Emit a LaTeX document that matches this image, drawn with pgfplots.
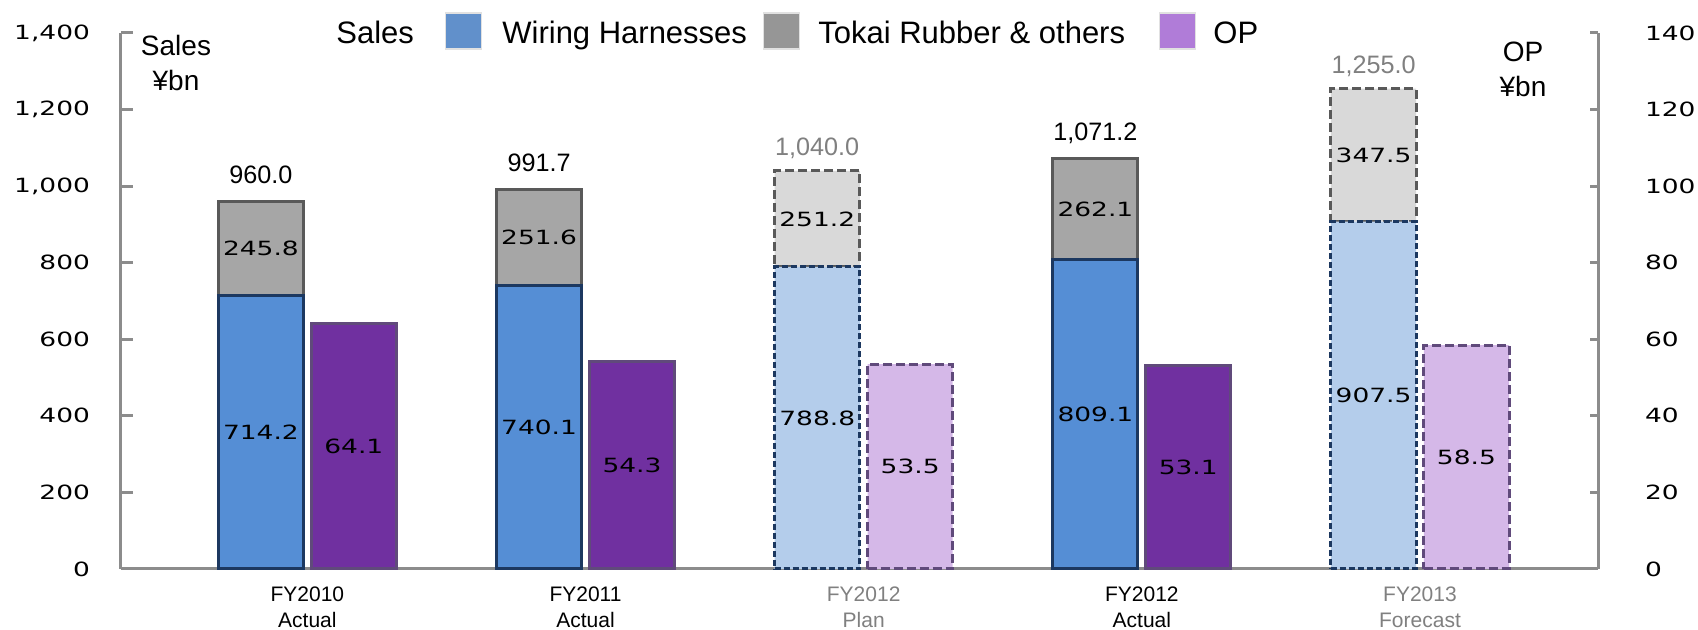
\documentclass[border=0pt]{standalone}
\usepackage{fontspec}
\setmainfont{Liberation Sans}
\newfontfamily\numfont[FakeStretch=1.35]{DejaVu Sans}
\usepackage{pgfplots}
\pgfplotsset{compat=1.18}

\definecolor{actblue}{RGB}{85,142,213}
\definecolor{navyb}{RGB}{28,56,96}
\definecolor{actgrey}{RGB}{166,166,166}
\definecolor{dgrey}{RGB}{89,89,89}
\definecolor{actpurple}{RGB}{112,48,160}
\definecolor{purpb}{RGB}{96,74,123}
\definecolor{planblue}{RGB}{180,205,235}
\definecolor{plangrey}{RGB}{217,217,217}
\definecolor{planpurple}{RGB}{213,184,232}
\definecolor{legblue}{RGB}{97,144,203}
\definecolor{leggrey}{RGB}{150,150,150}
\definecolor{legpurple}{RGB}{176,124,216}
\definecolor{legedge}{RGB}{225,225,225}
\definecolor{axisgray}{RGB}{140,140,140}
\definecolor{labgray}{RGB}{128,128,128}

\newcommand\numsize{\numfont\fontsize{9.8}{11}\selectfont}

\pgfplotsset{
  /pgf/number format/assume math mode=true,
  base/.style={width=738.5pt, height=268pt, scale only axis,
    xmin=-0.67, xmax=4.64, at={(0,0)}, anchor=south west, clip=false,
    bar width=0.306},
  % labels centred in the segments of a stacked bar
  stacklab/.style={nodes near coords={\pgfmathprintnumber[fixed,fixed zerofill,precision=1]{\pgfplotspointmeta}},
    point meta=rawy,
    nodes near coords style={anchor=center, inner sep=0pt, font=\numsize, text=black}},
  % labels centred in a plain bar
  barlab/.style={nodes near coords={\pgfmathprintnumber[fixed,fixed zerofill,precision=1]{\pgfplotspointmeta}},
    point meta=y,
    visualization depends on=y \as \rawy,
    nodes near coords style={anchor=center, inner sep=0pt, font=\numsize, text=black,
      shift={(axis direction cs:0,-\rawy/2)}}},
  totlab/.style 2 args={nodes near coords={\pgfmathprintnumber[fixed,fixed zerofill,precision=1,1000 sep={,}]{\pgfplotspointmeta}},
    point meta=y,
    nodes near coords style={anchor=base, inner sep=0pt, yshift=#2,
      font=\fontsize{12.6}{15}\selectfont, text=#1}},
  plandash/.style={dash pattern=on 4.5pt off 2pt},
  navydash/.style={dash pattern=on 3pt off 1.5pt},
}

\begin{document}
\begin{tikzpicture}
% ---------- Sales, actual (stacked), with the visible left and bottom axes
\begin{axis}[base, name=ax,
  ymin=0, ymax=1400, ybar stacked,
  axis x line=bottom, axis y line=left,
  axis line style={-, draw=axisgray, line width=1.5pt},
  xtick={0,1,2,3,4},
  xticklabels={{FY2010\\Actual},{FY2011\\Actual},{\textcolor{labgray}{FY2012}\\\textcolor{labgray}{Plan}},{FY2012\\Actual},{\textcolor{labgray}{FY2013}\\\textcolor{labgray}{Forecast}}},
  x tick style={draw=none},
  ytick={0,200,...,1400},
  y tick style={draw=axisgray, line width=1.5pt},
  major tick length=6pt, tick align=inside,
  /pgf/number format/1000 sep={,},
  yticklabel style={font=\numsize, xshift=-12pt},
  xticklabel style={font=\fontsize{10.5}{13}\selectfont, align=center, yshift=-5.5pt},
]
\addplot[fill=actblue, draw=navyb, line width=1.5pt, stacklab]
  coordinates {(-0.167,714.2) (0.833,740.1) (2.833,809.1)};
\addplot[fill=actgrey, draw=dgrey, line width=1.5pt, stacklab]
  coordinates {(-0.167,245.8) (0.833,251.6) (2.833,262.1)};
\end{axis}

% ---------- Sales, plan / forecast (stacked, dashed)
\begin{axis}[base, hide axis, ymin=0, ymax=1400, ybar stacked]
\addplot[fill=planblue, draw=navyb, line width=1.5pt, navydash, stacklab]
  coordinates {(1.833,788.8) (3.833,907.5)};
\addplot[fill=plangrey, draw=dgrey, line width=1.5pt, plandash, stacklab]
  coordinates {(1.833,251.2) (3.833,347.5)};
\end{axis}

% ---------- OP (right axis)
\begin{axis}[base, ymin=0, ymax=140,
  axis x line=none, axis y line=right,
  axis line style={-, draw=axisgray, line width=1.5pt},
  ytick={0,20,...,140},
  y tick style={draw=axisgray, line width=1.5pt},
  major tick length=4pt, tick align=inside,
  yticklabel style={font=\numsize, anchor=west, xshift=20pt},
]
\addplot[ybar, bar shift=0pt, fill=actpurple, draw=purpb, line width=1.5pt, barlab]
  coordinates {(0.167,64.1) (1.167,54.3) (3.167,53.1)};
\addplot[ybar, bar shift=0pt, fill=planpurple, draw=purpb, line width=1.5pt, plandash, barlab]
  coordinates {(2.167,53.5) (4.167,58.5)};
\end{axis}

% ---------- totals above the stacks
\begin{axis}[base, hide axis, ymin=0, ymax=1400]
\addplot[draw=none, totlab={black}{9pt}]
  coordinates {(-0.167,960.0) (0.833,991.7) (2.833,1071.2)};
\addplot[draw=none, totlab={labgray}{7.5pt}]
  coordinates {(1.833,1040.0) (3.833,1255.0)};
\end{axis}

% ---------- legend and unit captions
\begin{scope}[every node/.style={inner sep=0pt, font=\fontsize{15.5}{18}\selectfont}]
\node[anchor=base west] at ([xshift=107.5pt, yshift=262.5pt]ax.south west) {Sales};
\node[anchor=west, fill=legblue, draw=legedge, line width=0.6pt, minimum size=18pt] at ([xshift=162pt, yshift=269pt]ax.south west) {};
\node[anchor=base west] at ([xshift=190.5pt, yshift=262.5pt]ax.south west) {Wiring Harnesses};
\node[anchor=west, fill=leggrey, draw=legedge, line width=0.6pt, minimum size=18pt] at ([xshift=321pt, yshift=269pt]ax.south west) {};
\node[anchor=base west] at ([xshift=348.5pt, yshift=262.5pt]ax.south west) {Tokai Rubber \& others};
\node[anchor=west, fill=legpurple, draw=legedge, line width=0.6pt, minimum size=18pt] at ([xshift=519pt, yshift=269pt]ax.south west) {};
\node[anchor=base west] at ([xshift=546pt, yshift=262.5pt]ax.south west) {OP};
\end{scope}
\node[align=center, inner sep=0pt, font=\fontsize{14}{17.5}\selectfont] at ([xshift=27.5pt, yshift=253pt]ax.south west) {Sales\\¥bn};
\node[align=center, inner sep=0pt, font=\fontsize{14}{17.5}\selectfont] at ([xshift=701pt, yshift=250pt]ax.south west) {OP\\¥bn};

\pgfresetboundingbox
\path[use as bounding box] ([xshift=-60.5pt, yshift=-30.5pt]ax.south west) rectangle ([xshift=788.5pt, yshift=284.5pt]ax.south west);
\end{tikzpicture}
\end{document}
